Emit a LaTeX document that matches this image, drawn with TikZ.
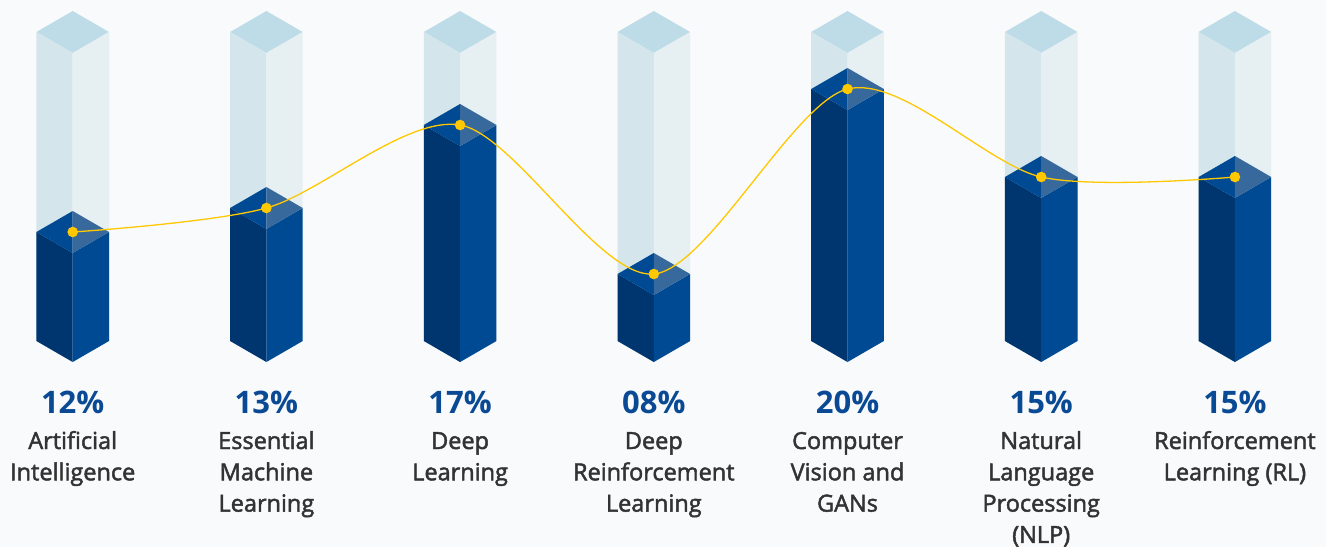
\documentclass[tikz,border=0pt]{standalone}
\usepackage{fontspec}
\setmainfont{Open Sans}
\newfontfamily\lblfont[FakeBold=2]{Open Sans}
\usepackage{xcolor}
\usepackage{tikz}
\usetikzlibrary{calc}

\definecolor{bgcol}{HTML}{F8FAFC}
\definecolor{glasstop}{HTML}{BEDCE8}
\definecolor{glassleft}{HTML}{D4E6EC}
\definecolor{glassright}{HTML}{E6EFF1}
\definecolor{barleft}{HTML}{003670}
\definecolor{barright}{HTML}{004A93}
\definecolor{bartopl}{HTML}{004A93}
\definecolor{bartopr}{HTML}{38699C}
\definecolor{trend}{HTML}{FFC800}
\definecolor{pctblue}{HTML}{0A4A94}
\definecolor{lblgray}{HTML}{333333}

\tikzset{
  pctlabel/.style={text=pctblue,font=\fontsize{31}{34}\selectfont\bfseries,anchor=base,inner sep=0pt},
  barlabel/.style={text=lblgray,font=\lblfont\fontsize{23.5}{31.3}\selectfont,anchor=base,inner sep=0pt},
  trendline/.style={trend,line width=1.3pt}
}

\begin{document}
\begin{tikzpicture}[x=1pt,y=-1pt]
    \fill [bgcol] (0,0) rectangle (1326,547);
    \useasboundingbox (0,0) rectangle (1326,547);

    \foreach \i/\cx/\ty/\pct/\txt in {
        1/72.7/232/12\%/{Artificial\\Intelligence},
        2/266.4/208/13\%/{Essential\\Machine\\Learning},
        3/460.1/125/17\%/{Deep\\Learning},
        4/653.8/274/08\%/{Deep\\Reinforcement\\Learning},
        5/847.5/89/20\%/{Computer\\Vision and\\GANs},
        6/1041.2/177/15\%/{Natural\\Language\\Processing\\(NLP)},
        7/1234.9/177/15\%/{Reinforcement\\Learning (RL)}} {
      % glass column
      \fill [glasstop] (\cx,11) -- (\cx-36.3,32) -- (\cx,53) -- (\cx+36.3,32) -- cycle;
      \fill [glassleft] (\cx-36.3,32) -- (\cx,53) -- (\cx,362) -- (\cx-36.3,341) -- cycle;
      \fill [glassright] (\cx,53) -- (\cx+36.3,32) -- (\cx+36.3,341) -- (\cx,362) -- cycle;

      % filled bar
      \fill [barleft] (\cx-36.3,\ty) -- (\cx,\ty+21) -- (\cx,362) -- (\cx-36.3,341) -- cycle;
      \fill [barright] (\cx,\ty+21) -- (\cx+36.3,\ty) -- (\cx+36.3,341) -- (\cx,362) -- cycle;
      \fill [bartopl] (\cx,\ty-21) -- (\cx-36.3,\ty) -- (\cx,\ty+21) -- cycle;
      \fill [bartopr] (\cx,\ty-21) -- (\cx+36.3,\ty) -- (\cx,\ty+21) -- cycle;

      \coordinate (dot\i) at (\cx,\ty);
      \node [pctlabel] (pct\i) at (\cx,413) {\pct};
      \node [barlabel] (lbl\i) at (\cx,449) {\begin{tabular}[t]{@{}c@{}}\txt\end{tabular}};
    }

    % trend through the bar tops
    \draw [trendline] plot [smooth] coordinates {(dot1) (dot2) (dot3) (dot4) (dot5) (dot6) (dot7)};
    \foreach \i in {1,...,7}
      \fill [trend] (dot\i) circle (5.3);
\end{tikzpicture}
\end{document}
